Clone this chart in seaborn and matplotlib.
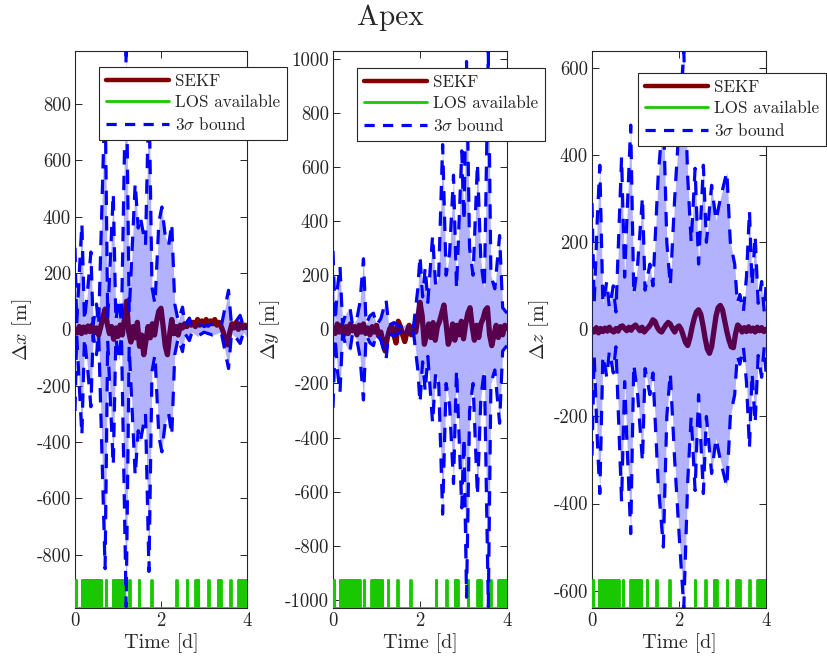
import numpy as np
import pandas as pd
import matplotlib
matplotlib.use("Agg")
import matplotlib.pyplot as plt
from matplotlib.lines import Line2D
import seaborn as sns

# time grid of the filter output [d]
days = np.linspace(0, 4, 81)

# SEKF position error [m], one value every 0.05 d
sekf_x = [0, -12, 10, -15, 8, -10, 12, -8, 15, -12, 5, -20, 10, 45, 72, 20, -15, 10, -35, 5,
          -25, 15, -20, 40, 100, -10, -45, 10, -30, 25, -60, -20, -90, -40, 10, -30, 20, -20, 30, 65,
          75, 10, -60, -90, -20, 35, -15, 10, -20, 15, 5, 20, 10, 30, 15, 25, 10, 35, 15, 30,
          20, 35, 15, 30, 20, 35, 15, 25, 10, -10, -40, -55, -10, 20, 5, 25, 0, 20, 5, 15, 10]
sekf_y = [5, -15, 20, -10, 15, -20, 10, -15, 20, -5, 10, -20, 15, -10, 20, -15, 5, -20, 10, -10,
          15, -25, -10, -50, -80, -30, 0, 15, -20, -50, 30, 10, -20, -45, -10, 15, -20, 10, -10, 40,
          100, 50, -55, -20, 20, -30, 25, -40, 10, 30, 60, 90, 20, -55, -30, 20, -40, 15, -20, 30,
          -35, 20, 60, 80, 10, -40, 15, -30, 20, 40, 70, 80, -20, -60, -20, 15, -30, 10, -20, 15, 5]
sekf_z = [0, -6, 4, -8, 2, -5, 3, -4, 5, -3, -6, 2, -4, 6, 8, 2, -3, 5, -2, 6,
          10, 4, -3, 5, -6, 0, 5, 12, 22, 18, 5, -3, -6, 2, 10, 16, 12, 2, -6, 4,
          8, 0, -15, -30, -37, -20, 5, 25, 40, 45, 35, 10, -20, -45, -55, -40, -5, 30, 50, 55,
          45, 20, -5, -25, -40, -42, -10, 10, 5, -6, 4, -5, 6, -4, 3, -6, 5, -3, 4, -5, 0]

# 3-sigma bound [m] (peaks and troughs)
bound_x_t = [0.00, 0.04, 0.10, 0.16, 0.22, 0.30, 0.37, 0.42, 0.50, 0.55, 0.70, 0.76, 0.89, 0.95,
             1.02, 1.08, 1.19, 1.26, 1.40, 1.47, 1.52, 1.59, 1.64, 1.72, 1.79, 1.86, 1.95, 2.02,
             2.10, 2.18, 2.25, 2.32, 2.40, 2.50, 2.56, 2.66, 2.72, 2.85, 3.00, 3.20, 3.40, 3.57,
             3.64, 3.75, 3.84, 3.92, 4.00]
bound_x = [290, 20, 200, 377, 30, 150, 275, 20, 90, 15, 850, 40, 484, 30,
           110, 20, 985, 60, 520, 360, 400, 340, 300, 860, 150, 90, 380, 435,
           330, 300, 377, 90, 30, 79, 15, 40, 10, 25, 10, 20, 10, 139,
           15, 30, 50, 10, 30]
bound_y_t = [0.00, 0.05, 0.10, 0.16, 0.22, 0.30, 0.39, 0.45, 0.55, 0.62, 0.70, 0.76, 0.85, 0.93,
             1.00, 1.10, 1.22, 1.28, 1.40, 1.55, 1.70, 1.85, 1.95, 2.00, 2.06, 2.12, 2.18, 2.29,
             2.36, 2.43, 2.52, 2.60, 2.68, 2.77, 2.84, 2.96, 3.01, 3.07, 3.14, 3.22, 3.32, 3.40,
             3.48, 3.57, 3.63, 3.72, 3.83, 3.90, 4.00]
bound_y = [290, 30, 150, 236, 20, 60, 80, 15, 40, 100, 261, 20, 50, 60,
           15, 40, 110, 15, 25, 10, 20, 10, 150, 273, 120, 230, 100, 347,
           160, 200, 683, 200, 280, 570, 150, 660, 400, 990, 300, 200, 615, 250,
           150, 1025, 200, 150, 347, 80, 60]
bound_z_t = [0.00, 0.05, 0.12, 0.18, 0.25, 0.34, 0.40, 0.49, 0.55, 0.68, 0.75, 0.80, 0.89, 0.96,
             1.05, 1.16, 1.22, 1.33, 1.40, 1.52, 1.64, 1.72, 1.80, 1.90, 2.02, 2.11, 2.20, 2.28,
             2.37, 2.45, 2.56, 2.63, 2.75, 2.85, 2.95, 3.10, 3.18, 3.28, 3.34, 3.40, 3.48, 3.55,
             3.62, 3.68, 3.75, 3.82, 3.90, 3.96, 4.00]
bound_z = [290, 60, 250, 377, 60, 110, 50, 100, 40, 396, 120, 250, 469, 80,
           150, 304, 90, 150, 100, 350, 500, 200, 100, 300, 500, 640, 350, 200,
           370, 150, 377, 200, 331, 250, 300, 362, 200, 150, 60, 80, 40, 120,
           273, 100, 216, 60, 110, 40, 100]

# line-of-sight availability: start times of the short "on" pulses [d] and pulse length
los_start = [0.02,
             0.16, 0.18, 0.20, 0.22, 0.24, 0.26, 0.28, 0.30, 0.32, 0.34, 0.36, 0.38,
             0.40, 0.42, 0.44, 0.46, 0.48, 0.50, 0.52, 0.54, 0.56, 0.58, 0.60,
             0.71,
             0.88, 0.90, 0.92, 0.94, 0.96, 0.98, 1.00, 1.02, 1.04, 1.06, 1.08, 1.10, 1.12,
             1.26, 1.48, 1.77, 2.36, 2.60,
             2.80, 2.83, 2.86,
             3.10,
             3.32, 3.35, 3.38,
             3.61,
             3.80, 3.82, 3.84, 3.86, 3.88, 3.90, 3.92, 3.94, 3.96, 3.98]
los_len = 0.012

ylabels = [r"$\Delta x$ [m]", r"$\Delta y$ [m]", r"$\Delta z$ [m]"]
ylims = [990, 1030, 640]
yticks = [np.arange(-800, 801, 200), np.arange(-1000, 1001, 200), np.arange(-600, 601, 200)]

sns.set_theme(style="ticks")
plt.rcParams["font.family"] = ["cmr10", "DejaVu Serif"]
plt.rcParams["mathtext.fontset"] = "cm"
plt.rcParams["axes.unicode_minus"] = False
plt.rcParams["axes.formatter.use_mathtext"] = False

c_sekf = "#800000"
c_los = "#1ac800"
c_bound = "#0000ff"
dash = (0, (4.5, 3.5))

fig = plt.figure(figsize=(8.27, 6.64), dpi=100)
lefts = [75 / 827, 333 / 827, 592 / 827]
widths = [172 / 827, 174 / 827, 174 / 827]
leg_pos = [(99 / 827, 1 - 67 / 664), (357 / 827, 1 - 68 / 664), (638 / 827, 1 - 73 / 664)]

panels = [(sekf_x, bound_x_t, bound_x), (sekf_y, bound_y_t, bound_y), (sekf_z, bound_z_t, bound_z)]

for i, (sekf, bt, bv) in enumerate(panels):
    ax = fig.add_axes([lefts[i], 0.0843, widths[i], 0.8393])
    lim = ylims[i]

    df = pd.DataFrame({"t": days, "err": sekf})
    sns.lineplot(data=df, x="t", y="err", ax=ax, color=c_sekf, lw=3.8,
                 estimator=None, sort=False, legend=False, zorder=2)

    bt = np.array(bt)
    bv = np.array(bv)
    ax.fill_between(bt, -bv, bv, color=c_bound, alpha=0.3, lw=0, zorder=3)

    # step curve for LOS flag
    lo, hi = -lim, -0.9 * lim
    st, sv = [0.0], [lo]
    for s in los_start:
        st += [s, s, s + los_len, s + los_len]
        sv += [lo, hi, hi, lo]
    st.append(4.0)
    sv.append(lo)
    los_df = pd.DataFrame({"t": st, "v": sv})
    sns.lineplot(data=los_df, x="t", y="v", ax=ax, color=c_los, lw=2,
                 estimator=None, sort=False, legend=False, zorder=3.5)

    bdf = pd.DataFrame({"t": np.concatenate([bt, bt]),
                        "b": np.concatenate([bv, -bv]),
                        "side": ["up"] * len(bt) + ["down"] * len(bt)})
    for side in ["up", "down"]:
        sns.lineplot(data=bdf[bdf.side == side], x="t", y="b", ax=ax, color=c_bound,
                     lw=2.3, linestyle=dash, estimator=None, sort=False,
                     legend=False, zorder=4)

    ax.set_xlim(0, 4)
    ax.set_ylim(-lim, lim)
    ax.set_xticks([0, 2, 4])
    ax.set_yticks(yticks[i])
    ax.set_xlabel("Time [d]", fontsize=14.5, color="#262626", labelpad=2)
    ax.set_ylabel(ylabels[i], fontsize=14.5, color="#262626", labelpad=2)
    ax.tick_params(direction="in", length=5, width=0.7, top=True, right=True,
                   labelsize=13.5, colors="#262626", pad=3)
    for sp in ax.spines.values():
        sp.set_linewidth(0.8)
        sp.set_color("#262626")

    handles = [Line2D([], [], color=c_sekf, lw=3.2),
               Line2D([], [], color=c_los, lw=2),
               Line2D([], [], color=c_bound, lw=2.3, linestyle=(0, (3.2, 2.6)))]
    leg = ax.legend(handles, ["SEKF", "LOS available", r"3$\sigma$ bound"],
                    loc="upper left", bbox_to_anchor=leg_pos[i],
                    bbox_transform=fig.transFigure, fontsize=12.3, frameon=True,
                    fancybox=False, framealpha=1, edgecolor="#262626",
                    handlelength=3.7, handletextpad=0.35, labelspacing=0.35,
                    borderpad=0.4, borderaxespad=0)
    leg.get_frame().set_linewidth(0.8)
    leg.set_zorder(10)

fig.text(390 / 827, 1 - 18 / 664, "Apex", ha="center", va="center", fontsize=21)
fig.savefig("out.png", dpi=100)
